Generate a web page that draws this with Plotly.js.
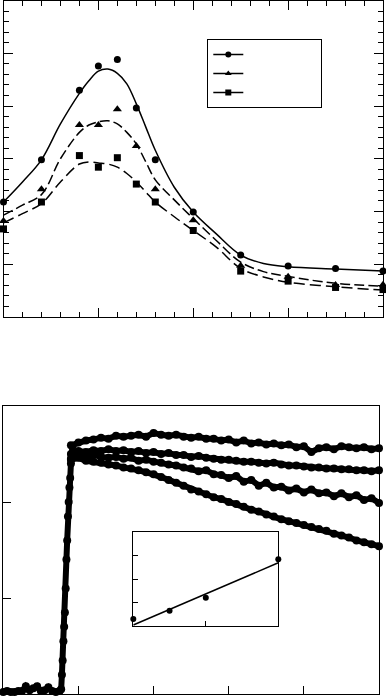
<!DOCTYPE html>
<html>
<head>
<meta charset="utf-8">
<script src="https://cdn.plot.ly/plotly-3.0.1.min.js"></script>
<style>html,body{margin:0;padding:0;background:#fff;}#chart{width:386px;height:697px;}</style>
</head>
<body>
<div id="chart"></div>
<script>
// ---------- Top panel: measured points ----------
var topX = [0, 2, 4, 5, 6, 7, 8, 10, 12.5, 15, 17.5, 20];
var circleY = [10.9, 14.9, 21.5, 23.8, 24.4, 19.8, 14.9, 9.95, 5.87, 4.83, 4.6, 4.35];
var triangleY = [9.1, 12.1, 18.2, 18.2, 19.7, 16.2, 12.1, 9.16, 4.85, 3.81, 3.03, 3.05];
var squareY = [8.35, 10.9, 15.3, 14.2, 15.1, 12.6, 10.9, 8.2, 4.35, 3.4, 2.8, 2.6];

// ---------- Top panel: fitted curves ----------
var fitX = [0, 1, 2, 3, 4, 4.5, 5, 5.5, 6, 6.5, 7, 7.5, 8, 9, 10, 11.2, 12.5, 13.7, 15, 17.5, 20];
var fitCircle = [10.9, 12.8, 14.9, 18.3, 21.2, 22.4, 23.3, 23.5, 23.1, 22.1, 20.2, 18.0, 15.8, 12.3, 9.95, 7.9, 5.87, 5.07, 4.76, 4.54, 4.35];
var fitTriangle = [9.65, 10.6, 11.6, 15.0, 17.5, 18.2, 18.5, 18.6, 18.3, 17.5, 16.4, 14.7, 13.0, 11.1, 9.33, 7.28, 5.2, 4.3, 3.85, 3.19, 2.93];
var fitSquare = [8.92, 9.8, 10.75, 12.8, 14.5, 14.7, 14.6, 14.5, 14.2, 13.6, 12.8, 11.85, 10.9, 9.5, 8.2, 6.65, 4.6, 3.8, 3.3, 2.87, 2.55];

// ---------- Bottom panel: baseline and rising edge ----------
var baseX = [0, 0.05, 0.1, 0.15, 0.2, 0.25, 0.3, 0.35, 0.4, 0.45, 0.5, 0.55, 0.6, 0.65, 0.7, 0.75,
             0.77, 0.78, 0.79, 0.8, 0.81, 0.82, 0.83, 0.84, 0.85, 0.86, 0.87, 0.88, 0.89, 0.9, 0.91, 0.92];
var baseY = [0.02, 0.03, 0.02, 0.02, 0.03, 0.03, 0.08, 0.04, 0.06, 0.08, 0.03, 0.04, 0.07, 0.03, 0.02, 0.03,
             0.05, 0.2, 0.35, 0.55, 0.7, 0.85, 1.1, 1.4, 1.6, 1.85, 2.0, 2.15, 2.25, 2.4, 2.5, 2.58];

// ---------- Bottom panel: four decay curves ----------
var curveX = [0.9, 1.0, 1.1, 1.2, 1.3, 1.4, 1.5, 1.6, 1.7, 1.8, 1.9, 2.0, 2.1, 2.2, 2.3, 2.4, 2.5, 2.6, 2.7, 2.8, 2.9,
              3.0, 3.1, 3.2, 3.3, 3.4, 3.5, 3.6, 3.7, 3.8, 3.9, 4.0, 4.1, 4.2, 4.3, 4.4, 4.5, 4.6, 4.7, 4.8, 4.9, 5.0];
var curve1 = [2.59, 2.62, 2.64, 2.65, 2.67, 2.66, 2.69, 2.68, 2.69, 2.70, 2.68, 2.72, 2.70, 2.69, 2.70, 2.68, 2.67, 2.68, 2.66, 2.66, 2.64,
              2.65, 2.62, 2.64, 2.61, 2.62, 2.60, 2.61, 2.59, 2.60, 2.57, 2.58, 2.52, 2.56, 2.57, 2.55, 2.58, 2.57, 2.56, 2.57, 2.55, 2.56];
var curve2 = [2.50, 2.53, 2.52, 2.54, 2.53, 2.55, 2.53, 2.54, 2.52, 2.53, 2.51, 2.52, 2.50, 2.51, 2.49, 2.49, 2.47, 2.48, 2.46, 2.45, 2.44,
              2.44, 2.43, 2.42, 2.42, 2.41, 2.40, 2.41, 2.39, 2.38, 2.38, 2.37, 2.36, 2.36, 2.35, 2.35, 2.34, 2.34, 2.33, 2.33, 2.32, 2.33];
var curve3 = [2.45, 2.48, 2.46, 2.49, 2.47, 2.46, 2.47, 2.45, 2.46, 2.43, 2.44, 2.42, 2.41, 2.39, 2.38, 2.36, 2.35, 2.32, 2.33, 2.29, 2.28,
              2.25, 2.27, 2.21, 2.23, 2.17, 2.20, 2.15, 2.16, 2.12, 2.14, 2.10, 2.13, 2.09, 2.10, 2.06, 2.09, 2.05, 2.07, 2.02, 2.04, 1.99];
var curve4 = [2.44, 2.46, 2.43, 2.42, 2.41, 2.39, 2.38, 2.36, 2.35, 2.33, 2.31, 2.29, 2.26, 2.23, 2.20, 2.17, 2.13, 2.11, 2.08, 2.05, 2.03,
              2.00, 1.98, 1.95, 1.92, 1.90, 1.87, 1.85, 1.82, 1.80, 1.78, 1.76, 1.74, 1.72, 1.70, 1.67, 1.65, 1.63, 1.60, 1.58, 1.56, 1.54];

// ---------- Inset ----------
var insetX = [0, 0.5, 1, 2];
var insetY = [0.3, 0.65, 1.21, 2.85];
var insetFitX = [0, 2];
var insetFitY = [0.04, 2.7];

var legendNames = ['\u00a0'.repeat(22), '\u00a0'.repeat(22), '\u00a0'.repeat(22)];

var K = '#000';
var traces = [];
// top fitted curves
traces.push({x: fitX, y: fitCircle, mode: 'lines', line: {color: K, width: 1.5, shape: 'spline'}, showlegend: false, xaxis: 'x', yaxis: 'y'});
traces.push({x: fitX, y: fitTriangle, mode: 'lines', line: {color: K, width: 1.5, shape: 'spline', dash: '10px,4px'}, showlegend: false, xaxis: 'x', yaxis: 'y'});
traces.push({x: fitX, y: fitSquare, mode: 'lines', line: {color: K, width: 1.5, shape: 'spline', dash: '11px,5px'}, showlegend: false, xaxis: 'x', yaxis: 'y'});
// top markers
traces.push({x: topX, y: circleY, mode: 'markers', marker: {symbol: 'circle', size: 7, color: K}, cliponaxis: false, showlegend: false, xaxis: 'x', yaxis: 'y'});
traces.push({x: topX, y: triangleY, mode: 'markers', marker: {symbol: 'triangle-up', size: 8, color: K}, cliponaxis: false, showlegend: false, xaxis: 'x', yaxis: 'y'});
traces.push({x: topX, y: squareY, mode: 'markers', marker: {symbol: 'square', size: 7, color: K}, cliponaxis: false, showlegend: false, xaxis: 'x', yaxis: 'y'});
// legend entries
traces.push({x: [null], y: [null], name: legendNames[0], mode: 'lines+markers', line: {color: K, width: 1.5}, marker: {symbol: 'circle', size: 6, color: K}, xaxis: 'x', yaxis: 'y'});
traces.push({x: [null], y: [null], name: legendNames[1], mode: 'lines+markers', line: {color: K, width: 1.5}, marker: {symbol: 'triangle-up', size: 6, color: K}, xaxis: 'x', yaxis: 'y'});
traces.push({x: [null], y: [null], name: legendNames[2], mode: 'lines+markers', line: {color: K, width: 1.5}, marker: {symbol: 'square', size: 6, color: K}, xaxis: 'x', yaxis: 'y'});

// bottom panel
var dotStyle = {mode: 'lines+markers', line: {color: K, width: 6}, marker: {size: 8, color: K}, cliponaxis: false, showlegend: false, xaxis: 'x2', yaxis: 'y2'};
[[baseX, baseY], [curveX, curve1], [curveX, curve2], [curveX, curve3], [curveX, curve4]].forEach(function (p) {
  traces.push(Object.assign({}, dotStyle, {x: p[0], y: p[1]}));
});

// inset
traces.push({x: insetFitX, y: insetFitY, mode: 'lines', line: {color: K, width: 1.5}, showlegend: false, xaxis: 'x3', yaxis: 'y3'});
traces.push({x: insetX, y: insetY, mode: 'markers', marker: {size: 6, color: K}, cliponaxis: false, showlegend: false, xaxis: 'x3', yaxis: 'y3'});

var W = 386, H = 697;
function ax(extra) {
  return Object.assign({showgrid: false, zeroline: false, showline: true, linecolor: K, linewidth: 1,
    showticklabels: false, ticks: 'inside', tickcolor: K, tickwidth: 1, fixedrange: true}, extra);
}

var layout = {
  width: W, height: H,
  margin: {l: 0, r: 0, t: 0, b: 0, pad: 0},
  paper_bgcolor: '#fff', plot_bgcolor: 'rgba(0,0,0,0)',
  showlegend: true,
  legend: {x: 207.3 / W, y: 1 - 39 / H, xanchor: 'left', yanchor: 'top', bgcolor: '#fff',
           bordercolor: K, borderwidth: 1, font: {family: 'Arial', size: 11, color: K}, itemwidth: 30,
           tracegroupgap: 0, itemclick: false, itemdoubleclick: false},
  xaxis: ax({domain: [3.5 / W, 383 / W], range: [0, 20], tick0: 0, dtick: 5, ticklen: 9, mirror: 'ticks', anchor: 'y',
             minor: {dtick: 1, ticks: 'inside', ticklen: 5, tickcolor: K, tickwidth: 1, showgrid: false}}),
  yaxis: ax({domain: [(H - 317) / H, (H - 0.5) / H], range: [0, 30], tick0: 0, dtick: 5, ticklen: 9, mirror: 'ticks', anchor: 'x',
             minor: {dtick: 1, ticks: 'inside', ticklen: 5, tickcolor: K, tickwidth: 1, showgrid: false}}),
  xaxis2: ax({domain: [3.3 / W, 379 / W], range: [0, 5], tick0: 0, dtick: 1, ticklen: 8, mirror: true, anchor: 'y2'}),
  yaxis2: ax({domain: [3 / H, 291 / H], range: [0, 3], tick0: 0, dtick: 1, ticklen: 8, mirror: true, anchor: 'x2'}),
  xaxis3: ax({domain: [133.3 / W, 278.3 / W], range: [0, 2], tick0: 0, dtick: 1, ticklen: 5, mirror: true, anchor: 'y3'}),
  yaxis3: ax({domain: [71 / H, 164.7 / H], range: [0, 4], tick0: 0, dtick: 1, ticklen: 5, mirror: true, anchor: 'x3'})
};

Plotly.newPlot('chart', traces, layout, {displayModeBar: false, staticPlot: true});
</script>
</body>
</html>
